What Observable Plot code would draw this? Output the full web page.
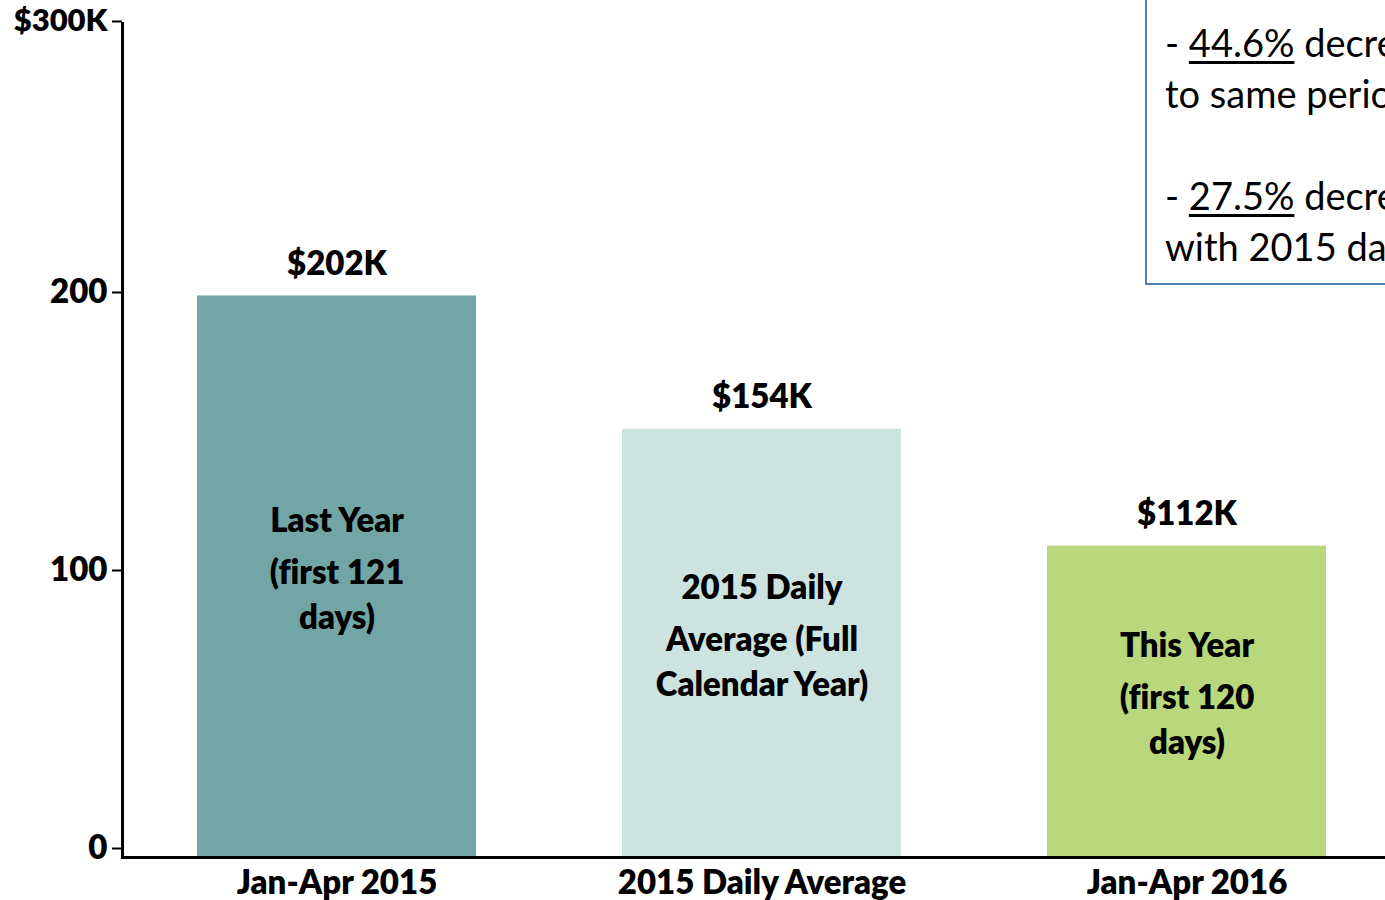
<!DOCTYPE html>
<html>
<head>
<meta charset="utf-8">
<script src="https://cdn.jsdelivr.net/npm/d3@7"></script>
<script src="https://cdn.jsdelivr.net/npm/@observablehq/plot@0.6"></script>
<style>
  html, body { margin: 0; padding: 0; background: #fff; overflow: hidden; width: 1385px; height: 900px; }
  #wrap { position: relative; width: 1385px; height: 900px; overflow: hidden; }
  #chart svg { display: block; overflow: visible; font-variant-ligatures: none; }
  #note {
    position: absolute; left: 1145px; top: -10px; height: 295px; width: 620px;
    box-sizing: border-box; border: 2px solid #4f81bd; background: #fff;
    padding: 25px 0 0 18px; font-family: Lato, "Open Sans", sans-serif; font-size: 38px;
    line-height: 51px; white-space: nowrap; color: #000; font-variant-ligatures: none;
  }
  #note u { text-decoration-thickness: 3px; text-underline-offset: 4px; }
</style>
</head>
<body>
<div id="wrap">
  <div id="chart"></div>
  <div id="note"></div>
</div>
<script>
const categories = ["Jan-Apr 2015", "2015 Daily Average", "Jan-Apr 2016"];
const values = [202, 154, 112];
const valueLabels = ["$202K", "$154K", "$112K"];
const barColors = ["#72a6a6", "#cde3e0", "#b8d87b"];
const innerLines = [
  ["Last Year", "(first 121", "days)"],
  ["2015 Daily", "Average (Full", "Calendar Year)"],
  ["This Year", "(first 120", "days)"]
];
const yTicks = [0, 100, 200, 300];
const yTickLabels = ["0", "100", "200", "$300K"];
const noteLines = [
  ["- ", " 44.6%", " decrease compared"],
  ["to same period last year"],
  [""],
  ["- ", "27.5%", " decrease compared"],
  ["with 2015 daily average"]
];

const data = categories.map((c, i) => ({cat: c, value: values[i], label: valueLabels[i], color: barColors[i]}));
const lineRows = [];
categories.forEach((c, i) => innerLines[i].forEach((t, j) => lineRows.push({cat: c, mid: values[i] / 2, text: t, line: j})));
const lineOffsets = [-55, -3, 42];

const font = "Lato, 'Open Sans', sans-serif";
const W = 800, FS = 33;
const fmt = d => yTickLabels[yTicks.indexOf(d)];
const chart = Plot.plot({
  width: 1385,
  height: 900,
  marginLeft: 122,
  marginRight: 0,
  marginTop: 23,
  marginBottom: 43,
  style: {fontFamily: font, fontWeight: W, color: "#000", background: "transparent"},
  x: {domain: categories, range: [122, 1401], paddingInner: 0.3435, paddingOuter: 0.176},
  y: {domain: [0, 300]},
  color: {type: "identity"},
  marks: [
    Plot.barY(data, {x: "cat", y: "value", fill: "color"}),
    Plot.ruleY([0], {stroke: "#000", strokeWidth: 3}),
    Plot.frame({anchor: "left", stroke: "#000", strokeWidth: 3}),
    Plot.axisY(yTicks.slice(0, 3), {
      tickSize: 10, tickPadding: 5, strokeWidth: 2, fontSize: FS, fontWeight: W, dy: -9,
      tickFormat: fmt, label: null
    }),
    Plot.axisY(yTicks.slice(3), {
      tickSize: 10, tickPadding: 5, strokeWidth: 2, fontSize: FS - 2, fontWeight: W, dy: -2,
      tickFormat: fmt, label: null
    }),
    Plot.axisX({tickSize: 0, tickPadding: 13, fontSize: FS, fontWeight: W, label: null}),
    Plot.text(data, {x: "cat", y: "value", text: "label", dy: -32, fontSize: FS, fontWeight: W, fill: "#000"}),
    ...lineOffsets.map((off, j) => Plot.text(lineRows.filter(r => r.line === j), {
      x: "cat", y: "mid", text: "text", dy: off, fontSize: FS, fontWeight: W, fill: "#000"
    }))
  ]
});
document.getElementById("chart").append(chart);

const note = document.getElementById("note");
noteLines.forEach(parts => {
  const div = document.createElement("div");
  div.style.height = "51px";
  if (parts.length === 3) {
    div.append(document.createTextNode(parts[0]));
    const u = document.createElement("u");
    u.textContent = parts[1];
    div.append(u);
    div.append(document.createTextNode(parts[2]));
  } else {
    div.textContent = parts[0];
  }
  note.append(div);
});
</script>
</body>
</html>
